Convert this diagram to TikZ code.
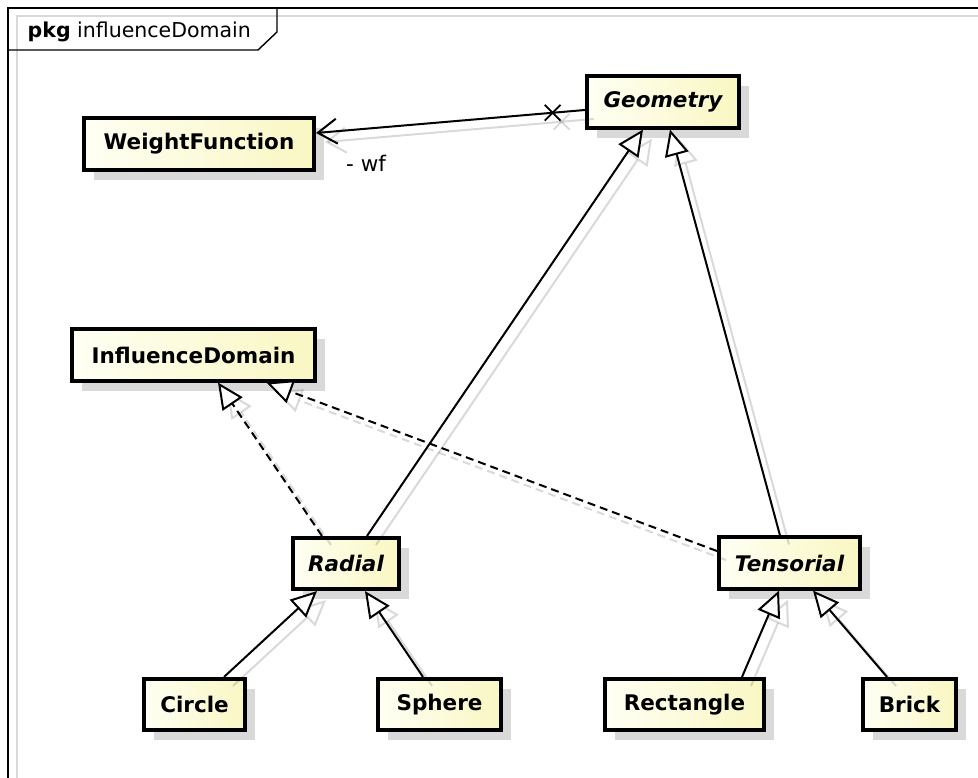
\documentclass[tikz,border=0pt]{standalone}
\usepackage{fontspec}
\setmainfont{DejaVu Sans}
\usetikzlibrary{arrows.meta,shapes.misc,shadows}

\definecolor{boxl}{HTML}{FFFFF4}
\definecolor{boxr}{HTML}{F9F7C2}
\definecolor{shadecol}{HTML}{D9D9D9}

\newcommand{\labelfont}{\fontsize{21.5bp}{25bp}\selectfont}
\newcommand{\titlefont}{\fontsize{20.5bp}{24bp}\selectfont}

\tikzset{
  cls/.style={draw=black, line width=3.6bp, left color=boxl, right color=boxr,
    minimum height=51.5bp, inner sep=0pt,
    font=\labelfont\bfseries,
    drop shadow={shadow xshift=10bp, shadow yshift=-10bp, fill=shadecol, opacity=1}},
  abstractcls/.style={cls, font=\labelfont\bfseries\itshape},
  link/.style={line width=2bp, black},
  gen/.style={link, -{Triangle[open, fill=white, length=26bp, width=24bp]}},
  realize/.style={gen, dash pattern=on 8bp off 5bp},
  assoc/.style={link, -{Straight Barb[length=19bp, width=25bp]}},
  xmark/.style={cross out, draw, minimum size=14bp, inner sep=0pt, line width=1.8bp},
  ghost/.style={transform canvas={xshift=9bp, yshift=-9bp}, opacity=.15},
  plainlink/.style={},
}

\begin{document}
\begin{tikzpicture}[x=1bp, y=-1bp]
\useasboundingbox (0,0) rectangle (978,778);
\fill[white] (0,0) rectangle (978,778);

% package frame and its tab
\draw[shadecol, line width=1.5bp] (17,778) -- (17,16) -- (978,16);
\draw[line width=1.4bp] (8,778) -- (8,8) -- (978,8);
\draw[line width=1.4bp] (8,50) -- (258,50) -- (277,32) -- (277,8);
\node[anchor=base west, inner sep=0pt, font=\titlefont] (title) at (27.5,38)
  {\textbf{pkg} influenceDomain};

% classes
\node[cls, minimum width=230.5bp] (wf) at (199,144) {WeightFunction};
\node[abstractcls, minimum width=152.5bp] (geometry) at (663,102) {Geometry};
\node[cls, minimum width=243.5bp] (influence) at (193.5,355) {InfluenceDomain};
\node[abstractcls, minimum width=106.5bp] (radial) at (346,563.5) {Radial};
\node[abstractcls, minimum width=141.5bp] (tensorial) at (789.5,563) {Tensorial};
\node[cls, minimum width=101.5bp] (circle) at (194.5,704.5) {Circle};
\node[cls, minimum width=123.5bp] (sphere) at (439.5,704.5) {Sphere};
\node[cls, minimum width=159.5bp] (rectangle) at (684.5,704.5) {Rectangle};
\node[cls, minimum width=93.5bp] (brick) at (909.5,704.5) {Brick};

% connectors: a faint offset copy first, then the line itself
\foreach \lay in {ghost, plainlink} {
  \draw[assoc, \lay] ([yshift=-8bp]geometry.west)
    -- node[xmark, pos=0.12] (xm) {} ([yshift=11bp]wf.east);
  \draw[gen, \lay] ([xshift=21bp]radial.north) -- ([xshift=-20bp]geometry.south);
  \draw[gen, \lay] ([xshift=-9.5bp]tensorial.north) -- ([xshift=7bp]geometry.south);
  \draw[realize, \lay] ([xshift=-24bp]radial.north) -- ([xshift=24.5bp]influence.south);
  \draw[realize, \lay] ([yshift=12bp]tensorial.west) -- ([xshift=73bp]influence.south);
  \draw[gen, \lay] ([xshift=29.5bp]circle.north) -- ([xshift=-29bp]radial.south);
  \draw[gen, \lay] ([xshift=-16.5bp]sphere.north) -- ([xshift=19bp]radial.south);
  \draw[gen, \lay] ([xshift=57.5bp]rectangle.north) -- ([xshift=-10.5bp]tensorial.south);
  \draw[gen, \lay] ([xshift=-22.5bp]brick.north) -- ([xshift=23.5bp]tensorial.south);
}

% role name of the association end
\node[anchor=base west, inner sep=0pt, font=\labelfont] (wfrole) at (346,171) {- wf};
\end{tikzpicture}
\end{document}
